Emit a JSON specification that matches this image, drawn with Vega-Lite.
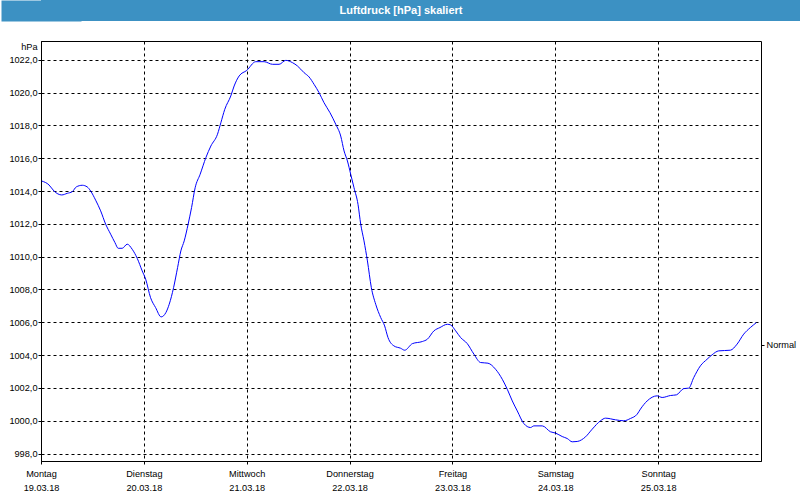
{
  "$schema": "https://vega.github.io/schema/vega-lite/v6.json",
  "padding": 0,
  "background": "white",
  "spacing": 19,
  "bounds": "full",
  "config": {
    "font": "Liberation Sans",
    "view": {"stroke": null}
  },
  "vconcat": [
    {
      "width": 760,
      "height": 21,
      "view": {"fill": "#3c91c3", "stroke": null},
      "data": {"values": [{"title": "Luftdruck [hPa] skaliert", "c": 0}]},
      "mark": {"type": "text", "color": "white", "fontWeight": "bold", "fontSize": 11, "font": "Liberation Sans", "dx": -20},
      "encoding": {
        "text": {"field": "title", "type": "nominal"},
        "y": {
          "field": "c", "type": "quantitative",
          "scale": {"domain": [-1, 1]},
          "axis": {
            "title": null, "labels": false, "ticks": false, "grid": false,
            "domain": true, "domainColor": "#3c91c3", "domainWidth": 80, "domainCap": "butt",
            "minExtent": 40
          }
        }
      }
    },
    {
      "width": 720,
      "height": 420,
      "view": {"stroke": "black", "strokeWidth": 1, "fill": "white"},
      "resolve": {"axis": {"y": "independent"}},
      "layer": [
        {
          "data": {"values": [
            {"t": "2018-03-19T00:10", "p": 1014.61},
            {"t": "2018-03-19T01:52", "p": 1014.37},
            {"t": "2018-03-19T03:02", "p": 1014.0},
            {"t": "2018-03-19T04:50", "p": 1013.76},
            {"t": "2018-03-19T06:08", "p": 1013.86},
            {"t": "2018-03-19T07:18", "p": 1013.96},
            {"t": "2018-03-19T08:14", "p": 1014.25},
            {"t": "2018-03-19T09:38", "p": 1014.35},
            {"t": "2018-03-19T10:47", "p": 1014.25},
            {"t": "2018-03-19T11:35", "p": 1014.0},
            {"t": "2018-03-19T12:45", "p": 1013.44},
            {"t": "2018-03-19T13:55", "p": 1012.79},
            {"t": "2018-03-19T15:05", "p": 1011.98},
            {"t": "2018-03-19T16:15", "p": 1011.37},
            {"t": "2018-03-19T17:15", "p": 1010.86},
            {"t": "2018-03-19T18:01", "p": 1010.51},
            {"t": "2018-03-19T18:57", "p": 1010.51},
            {"t": "2018-03-19T20:07", "p": 1010.76},
            {"t": "2018-03-19T21:17", "p": 1010.45},
            {"t": "2018-03-19T22:27", "p": 1009.9},
            {"t": "2018-03-19T23:37", "p": 1009.13},
            {"t": "2018-03-20T00:25", "p": 1008.63},
            {"t": "2018-03-20T01:34", "p": 1007.5},
            {"t": "2018-03-20T02:44", "p": 1006.9},
            {"t": "2018-03-20T04:02", "p": 1006.33},
            {"t": "2018-03-20T05:08", "p": 1006.59},
            {"t": "2018-03-20T05:55", "p": 1007.1},
            {"t": "2018-03-20T06:56", "p": 1008.11},
            {"t": "2018-03-20T07:52", "p": 1009.33},
            {"t": "2018-03-20T08:38", "p": 1010.35},
            {"t": "2018-03-20T09:25", "p": 1010.96},
            {"t": "2018-03-20T10:20", "p": 1011.98},
            {"t": "2018-03-20T11:08", "p": 1012.99},
            {"t": "2018-03-20T11:58", "p": 1014.2},
            {"t": "2018-03-20T13:08", "p": 1015.02},
            {"t": "2018-03-20T14:28", "p": 1016.03},
            {"t": "2018-03-20T15:38", "p": 1016.74},
            {"t": "2018-03-20T17:11", "p": 1017.46},
            {"t": "2018-03-20T17:58", "p": 1018.16},
            {"t": "2018-03-20T18:53", "p": 1018.98},
            {"t": "2018-03-20T20:17", "p": 1019.79},
            {"t": "2018-03-20T21:04", "p": 1020.4},
            {"t": "2018-03-20T22:14", "p": 1021.01},
            {"t": "2018-03-21T00:01", "p": 1021.35},
            {"t": "2018-03-21T02:07", "p": 1021.88},
            {"t": "2018-03-21T04:04", "p": 1021.88},
            {"t": "2018-03-21T06:01", "p": 1021.72},
            {"t": "2018-03-21T07:33", "p": 1021.72},
            {"t": "2018-03-21T09:07", "p": 1021.96},
            {"t": "2018-03-21T10:41", "p": 1021.82},
            {"t": "2018-03-21T11:50", "p": 1021.62},
            {"t": "2018-03-21T13:23", "p": 1021.21},
            {"t": "2018-03-21T14:33", "p": 1020.95},
            {"t": "2018-03-21T15:43", "p": 1020.5},
            {"t": "2018-03-21T16:53", "p": 1019.99},
            {"t": "2018-03-21T18:02", "p": 1019.38},
            {"t": "2018-03-21T19:26", "p": 1018.77},
            {"t": "2018-03-21T20:46", "p": 1018.07},
            {"t": "2018-03-21T21:56", "p": 1017.35},
            {"t": "2018-03-21T22:43", "p": 1016.44},
            {"t": "2018-03-21T23:30", "p": 1015.83},
            {"t": "2018-03-22T00:16", "p": 1015.02},
            {"t": "2018-03-22T01:02", "p": 1014.2},
            {"t": "2018-03-22T01:58", "p": 1013.19},
            {"t": "2018-03-22T02:36", "p": 1011.98},
            {"t": "2018-03-22T03:22", "p": 1010.96},
            {"t": "2018-03-22T04:10", "p": 1009.74},
            {"t": "2018-03-22T05:05", "p": 1008.11},
            {"t": "2018-03-22T06:06", "p": 1007.1},
            {"t": "2018-03-22T07:16", "p": 1006.29},
            {"t": "2018-03-22T08:11", "p": 1005.78},
            {"t": "2018-03-22T08:58", "p": 1005.07},
            {"t": "2018-03-22T10:22", "p": 1004.56},
            {"t": "2018-03-22T11:55", "p": 1004.42},
            {"t": "2018-03-22T12:52", "p": 1004.3},
            {"t": "2018-03-22T14:39", "p": 1004.7},
            {"t": "2018-03-22T16:59", "p": 1004.83},
            {"t": "2018-03-22T18:09", "p": 1004.97},
            {"t": "2018-03-22T19:41", "p": 1005.48},
            {"t": "2018-03-22T21:05", "p": 1005.68},
            {"t": "2018-03-22T22:49", "p": 1005.88},
            {"t": "2018-03-22T23:35", "p": 1005.84},
            {"t": "2018-03-23T00:45", "p": 1005.48},
            {"t": "2018-03-23T01:55", "p": 1005.07},
            {"t": "2018-03-23T03:28", "p": 1004.7},
            {"t": "2018-03-23T05:01", "p": 1004.06},
            {"t": "2018-03-23T06:34", "p": 1003.55},
            {"t": "2018-03-23T08:17", "p": 1003.51},
            {"t": "2018-03-23T10:04", "p": 1003.14},
            {"t": "2018-03-23T11:38", "p": 1002.53},
            {"t": "2018-03-23T12:48", "p": 1001.92},
            {"t": "2018-03-23T13:58", "p": 1001.21},
            {"t": "2018-03-23T15:08", "p": 1000.6},
            {"t": "2018-03-23T16:40", "p": 999.83},
            {"t": "2018-03-23T18:14", "p": 999.59},
            {"t": "2018-03-23T19:00", "p": 999.69},
            {"t": "2018-03-23T20:58", "p": 999.69},
            {"t": "2018-03-23T22:53", "p": 999.33},
            {"t": "2018-03-24T00:04", "p": 999.25},
            {"t": "2018-03-24T01:37", "p": 999.04},
            {"t": "2018-03-24T02:47", "p": 998.92},
            {"t": "2018-03-24T03:57", "p": 998.72},
            {"t": "2018-03-24T05:07", "p": 998.74},
            {"t": "2018-03-24T07:03", "p": 999.02},
            {"t": "2018-03-24T08:37", "p": 999.49},
            {"t": "2018-03-24T10:33", "p": 1000.0},
            {"t": "2018-03-24T11:43", "p": 1000.16},
            {"t": "2018-03-24T14:03", "p": 1000.06},
            {"t": "2018-03-24T15:59", "p": 1000.0},
            {"t": "2018-03-24T17:32", "p": 1000.14},
            {"t": "2018-03-24T19:06", "p": 1000.4},
            {"t": "2018-03-24T19:52", "p": 1000.71},
            {"t": "2018-03-24T21:26", "p": 1001.21},
            {"t": "2018-03-24T23:46", "p": 1001.52},
            {"t": "2018-03-25T00:56", "p": 1001.42},
            {"t": "2018-03-25T02:52", "p": 1001.54},
            {"t": "2018-03-25T04:16", "p": 1001.58},
            {"t": "2018-03-25T05:58", "p": 1001.96},
            {"t": "2018-03-25T07:08", "p": 1001.99},
            {"t": "2018-03-25T08:18", "p": 1002.63},
            {"t": "2018-03-25T09:52", "p": 1003.35},
            {"t": "2018-03-25T11:25", "p": 1003.75},
            {"t": "2018-03-25T12:35", "p": 1004.02},
            {"t": "2018-03-25T14:08", "p": 1004.26},
            {"t": "2018-03-25T16:51", "p": 1004.3},
            {"t": "2018-03-25T18:25", "p": 1004.67},
            {"t": "2018-03-25T19:58", "p": 1005.28},
            {"t": "2018-03-25T21:31", "p": 1005.68},
            {"t": "2018-03-25T22:55", "p": 1005.98}
          ]},
          "mark": {"type": "line", "color": "#0000ff", "strokeWidth": 1, "interpolate": "monotone"},
          "encoding": {
            "x": {
              "field": "t", "type": "temporal",
              "scale": {"domain": [{"year": 2018, "month": 3, "date": 19}, {"year": 2018, "month": 3, "date": 26}]},
              "axis": {
                "title": null,
                "values": [
                  {"year": 2018, "month": 3, "date": 19},
                  {"year": 2018, "month": 3, "date": 20},
                  {"year": 2018, "month": 3, "date": 21},
                  {"year": 2018, "month": 3, "date": 22},
                  {"year": 2018, "month": 3, "date": 23},
                  {"year": 2018, "month": 3, "date": 24},
                  {"year": 2018, "month": 3, "date": 25}
                ],
                "labelExpr": "[['Sonntag','Montag','Dienstag','Mittwoch','Donnerstag','Freitag','Samstag'][day(datum.value)], timeFormat(datum.value, '%d.%m.%y')]",
                "labelFlush": false,
                "labelOverlap": false,
                "labelAlign": "center",
                "labelBaseline": "top",
                "labelFontSize": 9.2,
                "labelLineHeight": 14.5,
                "labelPadding": 5,
                "labelColor": "black",
                "grid": true,
                "gridColor": "black",
                "gridOpacity": 1,
                "gridDash": [3, 3],
                "gridWidth": 1,
                "tickColor": "black",
                "tickSize": 3,
                "domainColor": "black"
              }
            },
            "y": {
              "field": "p", "type": "quantitative",
              "scale": {"domain": [997.55, 1023.14], "nice": false, "zero": false},
              "axis": {
                "title": "hPa",
                "titleAngle": 0,
                "titleX": -4,
                "titleY": 5,
                "titleAlign": "right",
                "titleBaseline": "middle",
                "titleFontWeight": "normal",
                "titleFontSize": 9.2,
                "titleColor": "black",
                "values": [998, 1000, 1002, 1004, 1006, 1008, 1010, 1012, 1014, 1016, 1018, 1020, 1022],
                "labelExpr": "replace(format(datum.value, '.1f'), '.', ',')",
                "labelFontSize": 9.2,
                "labelColor": "black",
                "labelPadding": 1,
                "grid": true,
                "gridColor": "black",
                "gridOpacity": 1,
                "gridDash": [3, 3],
                "gridWidth": 1,
                "tickColor": "black",
                "tickSize": 3,
                "domainColor": "black",
                "minExtent": 40
              }
            }
          }
        },
        {
          "data": {"values": [{"n": 1004.62, "name": "Normal"}]},
          "mark": {"type": "rule", "strokeOpacity": 0},
          "encoding": {
            "y": {
              "field": "n", "type": "quantitative",
              "axis": {
                "orient": "right",
                "title": null,
                "values": [1004.62],
                "labelExpr": "'Normal'",
                "labelFontSize": 9.2,
                "labelColor": "black",
                "labelPadding": 2,
                "grid": false,
                "domain": false,
                "tickColor": "black",
                "tickSize": 3
              }
            }
          }
        }
      ]
    }
  ]
}
